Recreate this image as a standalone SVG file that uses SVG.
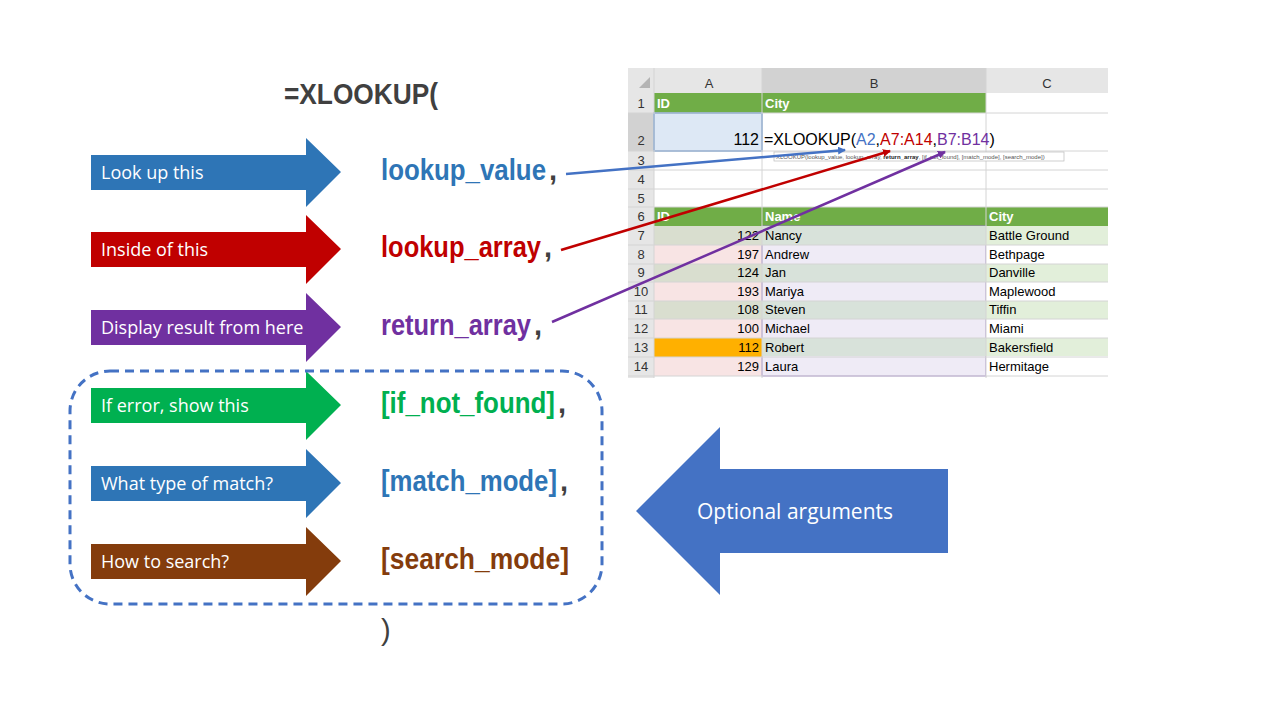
<svg xmlns="http://www.w3.org/2000/svg" width="1280" height="720" viewBox="0 0 1280 720">
<style>
.lbl{font-family:"Open Sans","Liberation Sans",sans-serif;font-size:18px;fill:#fff}
.arg{font-family:"Liberation Sans",sans-serif;font-size:29px;font-weight:bold}
.cm{fill:#404040}
.xs{font-family:"Liberation Sans",sans-serif;font-size:13px;fill:#000}
.hd{font-family:"Liberation Sans",sans-serif;font-size:13px;fill:#fff;font-weight:bold}
.rn{font-family:"Liberation Sans",sans-serif;font-size:13px;fill:#333;text-anchor:middle}
</style>
<defs>
<marker id="mb" markerWidth="8" markerHeight="8" refX="7" refY="4" orient="auto" markerUnits="userSpaceOnUse"><path d="M0,0L8,4L0,8z" fill="#4472C4"/></marker>
<marker id="mr" markerWidth="8" markerHeight="8" refX="7" refY="4" orient="auto" markerUnits="userSpaceOnUse"><path d="M0,0L8,4L0,8z" fill="#C00000"/></marker>
<marker id="mp" markerWidth="8" markerHeight="8" refX="7" refY="4" orient="auto" markerUnits="userSpaceOnUse"><path d="M0,0L8,4L0,8z" fill="#7030A0"/></marker>
</defs>
<rect width="1280" height="720" fill="#fff"/>
<text x="284" y="104" class="arg cm" textLength="154" lengthAdjust="spacingAndGlyphs">=XLOOKUP(</text>
<text x="381" y="640" class="arg cm" style="font-weight:normal">)</text>

<g id="sheet">
<rect x="628" y="68" width="480" height="310" fill="#fff"/>
<rect x="628" y="68" width="480" height="25" fill="#e6e6e6"/>
<rect x="762" y="68" width="224" height="25" fill="#d2d2d2"/>
<rect x="628" y="68" width="26" height="310" fill="#e6e6e6"/>
<rect x="628" y="113" width="26" height="38" fill="#d2d2d2"/>
<path d="M650,88L650,77L639,88z" fill="#b4b4b4"/>
<g font-family="Liberation Sans,sans-serif" font-size="13" fill="#333" text-anchor="middle">
<text x="709" y="88">A</text><text x="874" y="88">B</text><text x="1047" y="88">C</text></g>
<rect x="654" y="93" width="332" height="20" fill="#70AD47"/>
<rect x="654" y="207" width="454" height="19" fill="#70AD47"/>
<rect x="654" y="113" width="108" height="38" fill="#DDE8F5" stroke="#5B8ED0" stroke-width="1.5"/>
<g id="rows">
<rect x="654" y="226" width="108" height="150" fill="#F8E4E4"/>
<rect x="762" y="226" width="224" height="150" fill="#EFEBF6" stroke="#9B7BC9" stroke-width="1"/>
<rect x="986" y="226" width="122" height="150" fill="#fff"/>
<g fill="#D9DECF"><rect x="654" y="226" width="108" height="19"/><rect x="654" y="264" width="108" height="18"/><rect x="654" y="301" width="108" height="18"/></g>
<g fill="#D8E2DA"><rect x="762" y="226" width="224" height="19"/><rect x="762" y="264" width="224" height="18"/><rect x="762" y="301" width="224" height="18"/><rect x="762" y="338" width="224" height="18"/></g>
<g fill="#E2EFDA"><rect x="986" y="226" width="122" height="19"/><rect x="986" y="264" width="122" height="18"/><rect x="986" y="301" width="122" height="18"/><rect x="986" y="338" width="122" height="18"/></g>
<rect x="654" y="338" width="108" height="19" fill="#FFB000"/>
</g>
<g stroke="#d4d4d4" stroke-width="1">
<path d="M628,113H1108M628,151H1108M628,170H1108M628,189H1108M628,207H1108M628,245H1108M628,264H1108M628,282H1108M628,301H1108M628,319H1108M628,338H1108M628,357H1108M628,376H1108"/>
<path d="M654,68V378M762,68V378M986,68V378"/>
</g>
<g class="rn">
<text x="641" y="108">1</text><text x="641" y="145">2</text><text x="641" y="165">3</text><text x="641" y="184">4</text><text x="641" y="203">5</text><text x="641" y="221">6</text>
<text x="641" y="240">7</text><text x="641" y="259">8</text><text x="641" y="277">9</text><text x="641" y="296">10</text><text x="641" y="314">11</text><text x="641" y="333">12</text><text x="641" y="352">13</text><text x="641" y="371">14</text>
</g>
<text x="657" y="108" class="hd">ID</text><text x="765" y="108" class="hd">City</text>
<text x="657" y="221" class="hd">ID</text><text x="765" y="221" class="hd">Name</text><text x="989" y="221" class="hd">City</text>
<text x="759" y="145" font-family="Liberation Sans,sans-serif" font-size="16" text-anchor="end">112</text>
<text x="764" y="145" font-family="Liberation Sans,sans-serif" font-size="16">=XLOOKUP(<tspan fill="#4472C4">A2</tspan>,<tspan fill="#C00000">A7:A14</tspan>,<tspan fill="#7030A0">B7:B14</tspan>)</text>
<rect x="774" y="152" width="290" height="9" fill="#fff" stroke="#bbb" stroke-width="0.7"/>
<text x="776" y="159" font-family="Liberation Sans,sans-serif" font-size="6" fill="#555">XLOOKUP(lookup_value, lookup_array, <tspan font-weight="bold" fill="#222">return_array</tspan>, [if_not_found], [match_mode], [search_mode])</text>
<g class="xs">
<g text-anchor="end"><text x="759" y="240">122</text><text x="759" y="259">197</text><text x="759" y="277">124</text><text x="759" y="296">193</text><text x="759" y="314">108</text><text x="759" y="333">100</text><text x="759" y="352">112</text><text x="759" y="371">129</text></g>
<text x="765" y="240">Nancy</text><text x="765" y="259">Andrew</text><text x="765" y="277">Jan</text><text x="765" y="296">Mariya</text><text x="765" y="314">Steven</text><text x="765" y="333">Michael</text><text x="765" y="352">Robert</text><text x="765" y="371">Laura</text>
<text x="989" y="240">Battle Ground</text><text x="989" y="259">Bethpage</text><text x="989" y="277">Danville</text><text x="989" y="296">Maplewood</text><text x="989" y="314">Tiffin</text><text x="989" y="333">Miami</text><text x="989" y="352">Bakersfield</text><text x="989" y="371">Hermitage</text>
</g>
</g>

<g id="a1"><path d="M91,155H306V138L341,172L306,207V190H91z" fill="#2E75B6"/><text x="101" y="179" class="lbl">Look up this</text></g>
<g id="a2"><path d="M91,232H306V215L341,249L306,284V267H91z" fill="#C00000"/><text x="101" y="256" class="lbl">Inside of this</text></g>
<g id="a3"><path d="M91,310H306V293L341,327L306,362V345H91z" fill="#7030A0"/><text x="101" y="334" class="lbl">Display result from here</text></g>
<g id="a4"><path d="M91,388H306V371L341,405L306,440V423H91z" fill="#00B050"/><text x="101" y="412" class="lbl">If error, show this</text></g>
<g id="a5"><path d="M91,466H306V449L341,483L306,518V501H91z" fill="#2E75B6"/><text x="101" y="490" class="lbl">What type of match?</text></g>
<g id="a6"><path d="M91,544H306V527L341,561L306,596V579H91z" fill="#843C0C"/><text x="101" y="568" class="lbl">How to search?</text></g>

<g id="args">
<text x="381" y="180" class="arg" fill="#2E75B6" textLength="165" lengthAdjust="spacingAndGlyphs">lookup_value</text><text x="549" y="180" class="arg cm">,</text>
<text x="381" y="257" class="arg" fill="#C00000" textLength="160" lengthAdjust="spacingAndGlyphs">lookup_array</text><text x="544" y="257" class="arg cm">,</text>
<text x="381" y="335" class="arg" fill="#7030A0" textLength="150" lengthAdjust="spacingAndGlyphs">return_array</text><text x="534" y="335" class="arg cm">,</text>
<text x="381" y="413" class="arg" fill="#00B050" textLength="174" lengthAdjust="spacingAndGlyphs">[if_not_found]</text><text x="558" y="413" class="arg cm">,</text>
<text x="381" y="491" class="arg" fill="#2E75B6" textLength="176" lengthAdjust="spacingAndGlyphs">[match_mode]</text><text x="560" y="491" class="arg cm">,</text>
<text x="381" y="569" class="arg" fill="#843C0C" textLength="188" lengthAdjust="spacingAndGlyphs">[search_mode]</text>
</g>

<rect id="optbox" x="70" y="371" width="532" height="233" rx="40" fill="none" stroke="#4472C4" stroke-width="3" stroke-dasharray="9,6"/>
<g id="opt"><path d="M636,511L720,427V469H948V553H720V595z" fill="#4472C4"/><text x="795" y="519" font-family="Open Sans,Liberation Sans,sans-serif" font-size="21" fill="#fff" text-anchor="middle">Optional arguments</text></g>

<g id="connectors" stroke-width="2.5" fill="none">
<line x1="566" y1="174" x2="845" y2="150" stroke="#4472C4" marker-end="url(#mb)"/>
<line x1="561" y1="250" x2="890" y2="151" stroke="#C00000" marker-end="url(#mr)"/>
<line x1="552" y1="322" x2="945" y2="152" stroke="#7030A0" marker-end="url(#mp)"/>
</g>
</svg>
